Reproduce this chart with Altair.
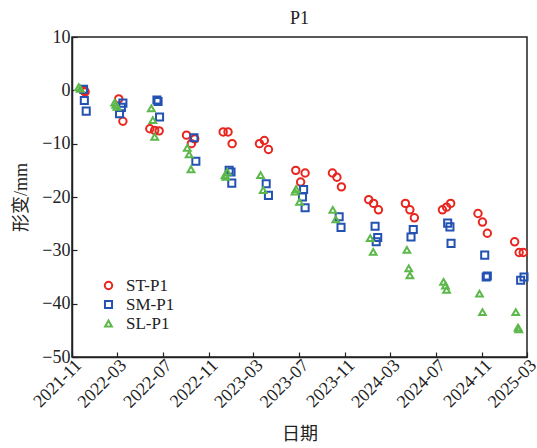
import altair as alt
import pandas as pd

# ---------------- data ----------------
series_names = ["ST-P1", "SM-P1", "SL-P1"]
series_colors = ["#E8251F", "#2352B2", "#5CB84A"]
series_shapes = ["circle", "square", "triangle-up"]

st_dates = ["2021-12-02", "2021-12-04", "2021-12-06", "2022-03-06", "2022-03-17",
            "2022-05-28", "2022-06-10", "2022-06-22", "2022-09-03", "2022-09-16",
            "2022-09-25", "2022-12-10", "2022-12-23", "2023-01-03", "2023-03-17",
            "2023-03-30", "2023-04-10", "2023-06-22", "2023-07-05", "2023-07-17",
            "2023-09-28", "2023-10-10", "2023-10-22", "2024-01-03", "2024-01-16",
            "2024-01-29", "2024-04-10", "2024-04-22", "2024-05-04", "2024-07-18",
            "2024-07-29", "2024-08-09", "2024-10-21", "2024-11-02", "2024-11-15",
            "2025-01-27", "2025-02-08", "2025-02-19"]
st_values = [0.0, -0.1, -0.3, -1.6, -5.8,
             -7.2, -7.5, -7.6, -8.4, -10.0,
             -9.1, -7.8, -7.8, -10.0, -10.0,
             -9.4, -11.1, -15.0, -17.2, -15.5,
             -15.5, -16.3, -18.1, -20.5, -21.2,
             -22.4, -21.2, -22.4, -23.9, -22.4,
             -21.9, -21.2, -23.1, -24.7, -26.8,
             -28.4, -30.4, -30.4]

sm_dates = ["2021-12-02", "2021-12-04", "2021-12-09", "2022-03-08", "2022-03-13",
            "2022-03-17", "2022-06-16", "2022-06-19", "2022-06-23", "2022-09-23",
            "2022-09-28", "2022-12-26", "2022-12-31", "2023-01-02", "2023-04-04",
            "2023-04-10", "2023-07-10", "2023-07-13", "2023-07-17", "2023-10-16",
            "2023-10-21", "2024-01-20", "2024-01-23", "2024-01-27", "2024-04-25",
            "2024-05-01", "2024-08-01", "2024-08-07", "2024-08-10", "2024-11-08",
            "2024-11-12", "2024-11-15", "2025-02-12", "2025-02-21"]
sm_values = [0.2, -1.9, -3.9, -4.4, -3.2,
             -2.4, -1.8, -2.1, -5.0, -8.9,
             -13.3, -15.0, -15.3, -17.4, -17.5,
             -19.7, -20.0, -18.6, -22.0, -23.7,
             -25.7, -25.5, -28.4, -27.6, -27.5,
             -26.1, -24.9, -25.6, -28.7, -30.9,
             -35.0, -34.8, -35.6, -35.0]

sl_dates = ["2021-11-19", "2021-11-23", "2022-02-23", "2022-02-26", "2022-03-01",
            "2022-06-01", "2022-06-05", "2022-06-10", "2022-09-05", "2022-09-10",
            "2022-09-15", "2022-12-15", "2022-12-17", "2022-12-21", "2023-03-20",
            "2023-03-27", "2023-06-20", "2023-06-23", "2023-07-02", "2023-09-29",
            "2023-10-07", "2024-01-07", "2024-01-15", "2024-04-14", "2024-04-19",
            "2024-04-22", "2024-07-21", "2024-07-26", "2024-07-29", "2024-10-25",
            "2024-11-02", "2025-01-30", "2025-02-05", "2025-02-07"]
sl_values = [0.6, 0.3, -2.3, -2.7, -3.1,
             -3.4, -5.6, -8.7, -10.8, -12.0,
             -14.8, -15.9, -16.2, -15.3, -15.9,
             -18.7, -19.0, -18.5, -20.9, -22.4,
             -24.2, -27.7, -30.3, -29.9, -33.4,
             -34.7, -35.9, -36.6, -37.4, -38.1,
             -41.6, -41.6, -44.5, -44.8]

x_tick_labels = ["2021-11", "2022-03", "2022-07", "2022-11", "2023-03", "2023-07",
                 "2023-11", "2024-03", "2024-07", "2024-11", "2025-03"]
y_ticks = [-50, -40, -30, -20, -10, 0, 10]

# ---------------- table ----------------
frames = []
for name, d, v in [(series_names[0], st_dates, st_values),
                   (series_names[1], sm_dates, sm_values),
                   (series_names[2], sl_dates, sl_values)]:
    frames.append(pd.DataFrame({"date": d, "value": v, "series": name}))
df = pd.concat(frames, ignore_index=True)
df["order"] = range(len(df))


def dt(label):
    y, m = label.split("-")
    return alt.DateTime(year=int(y), month=int(m), date=1, utc=True)


x_values = [dt(s) for s in x_tick_labels]

SERIF = "Liberation Serif, Times New Roman, Noto Sans CJK SC, serif"

x_enc = alt.X(
    "date:T",
    title="日期",
    scale=alt.Scale(type="utc", domain=[x_values[0], x_values[-1]], nice=False),
    axis=alt.Axis(
        values=x_values,
        format="%Y-%m",
        labelAngle=-45,
        labelAlign="right",
        labelBaseline="top",
        labelPadding=4,
        labelOverlap=False,
        labelBound=False,
        labelFlush=False,
        tickSize={"expr": "-5"},
        grid=False,
        titlePadding=14,
    ),
)
y_enc = alt.Y(
    "value:Q",
    title="形变/mm",
    scale=alt.Scale(domain=[-50, 10], nice=False, zero=False),
    axis=alt.Axis(
        values=y_ticks,
        labelExpr="replace(datum.label, '-', '−')",
        tickSize={"expr": "-5"},
        labelPadding=7,
        labelFlush=False,
        grid=False,
        titlePadding=11,
    ),
)

chart = (
    alt.Chart(df)
    .mark_point(filled=False, opacity=1)
    .encode(
        x=x_enc,
        y=y_enc,
        color=alt.Color(
            "series:N",
            scale=alt.Scale(domain=series_names, range=series_colors),
            legend=alt.Legend(
                title=None,
                orient="none",
                legendX=28,
                legendY=240,
                labelFont=SERIF,
                labelFontSize=17,
                labelColor="#222222",
                symbolSize=30,
                symbolStrokeWidth=2,
                labelOffset=9,
                rowPadding=1,
            ),
        ),
        shape=alt.Shape(
            "series:N",
            scale=alt.Scale(domain=series_names, range=series_shapes),
            legend=alt.Legend(title=None),
        ),
        size=alt.Size(
            "series:N",
            scale=alt.Scale(domain=series_names, range=[55, 45, 125]),
            legend=None,
        ),
        strokeWidth=alt.StrokeWidth(
            "series:N",
            scale=alt.Scale(domain=series_names, range=[2, 2, 2.6]),
            legend=None,
        ),
        order=alt.Order("order:Q"),
    )
    .properties(
        width=455,
        height=320,
        title=alt.TitleParams(
            "P1", font=SERIF, fontSize=18, fontWeight="normal", color="#222222",
            anchor="middle", offset=5, dy=5,
        ),
        autosize=alt.AutoSizeParams(type="none"),
        padding={"left": 72, "top": 37, "right": 10, "bottom": 91},
    )
    .configure_view(stroke="#222222", strokeWidth=1.5)
    .configure_axis(
        labelFont=SERIF,
        labelFontSize=18,
        labelColor="#222222",
        titleFont=SERIF,
        titleFontSize=18,
        titleFontWeight="normal",
        titleColor="#222222",
        domainColor="#222222",
        domainWidth=1.5,
        tickColor="#222222",
        tickWidth=1.2,
    )
    .configure_legend(symbolStrokeWidth=2)
)

chart.save("out.html", embed_options={"renderer": "svg", "actions": False})
